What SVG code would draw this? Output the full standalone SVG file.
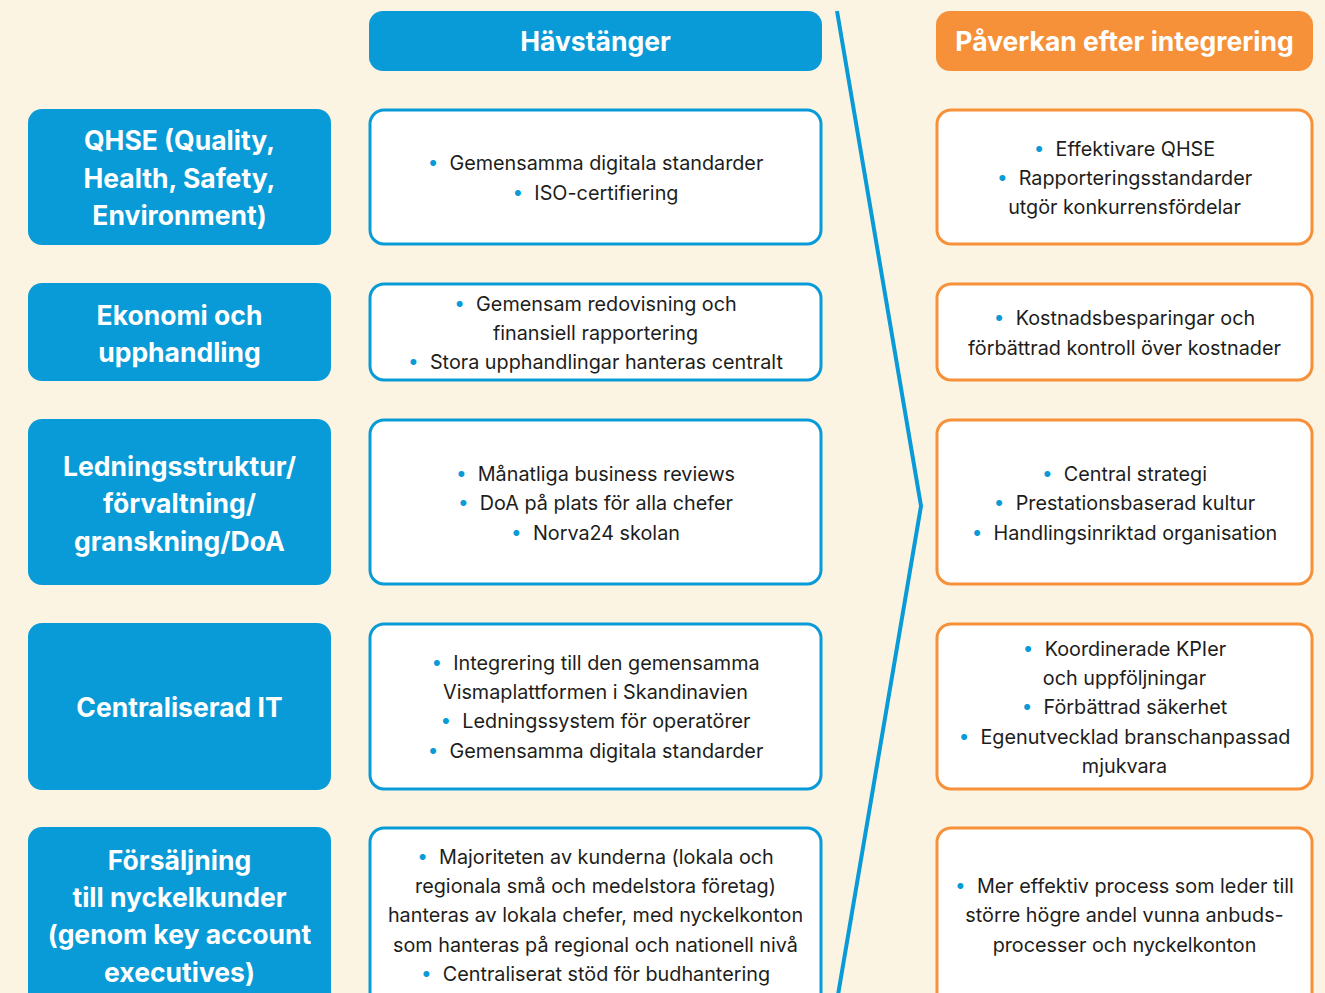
<svg xmlns="http://www.w3.org/2000/svg" width="1325" height="993" viewBox="0 0 1325 993">
<style>
.bg{fill:#fcf4e3}
.lbox{fill:#089bd8}
.mbox{fill:#fff;stroke:#089bd8;stroke-width:3}
.rbox{fill:#fff;stroke:#f6913a;stroke-width:3}
.hb{fill:#089bd8}
.ho{fill:#f6913a}
.title{font-family:Inter,"Liberation Sans",sans-serif;font-weight:700;font-size:26.5px;fill:#fff;text-anchor:middle}
.head{font-family:Inter,"Liberation Sans",sans-serif;font-weight:700;font-size:26.5px;fill:#fff;text-anchor:middle}
.t{font-family:Inter,"Liberation Sans",sans-serif;font-size:19.8px;fill:#1d1d1b;text-anchor:middle;white-space:pre}
.b{fill:#089bd8;font-size:19px}
.conn{fill:none;stroke:#089bd8;stroke-width:4;stroke-linejoin:miter}
</style>
<rect class="bg" x="0" y="0" width="1325" height="993"/>
<g id="connectors">
<polyline class="conn" points="837,11 921,506 838,995"/>
</g>
<g id="header-havstanger">
<rect class="hb" x="369" y="11" width="453" height="60" rx="14"/>
<text class="head" x="595.5" y="51">Hävstänger</text>
</g>
<g id="header-paverkan">
<rect class="ho" x="936" y="11" width="377" height="60" rx="14"/>
<text class="head" x="1124.5" y="51">Påverkan efter integrering</text>
</g>

<g id="l-qhse">
<rect class="lbox" x="28" y="109" width="303" height="136" rx="14"/>
<text class="title" x="179.5" y="150">QHSE (Quality,</text>
<text class="title" x="179.5" y="188">Health, Safety,</text>
<text class="title" x="179.5" y="225">Environment)</text>
</g>
<g id="m-qhse">
<rect class="mbox" x="370" y="110" width="451" height="134" rx="14"/>
<text class="t" x="595.5" y="170"><tspan class="b" dy="-1">•</tspan><tspan dy="1">  Gemensamma digitala standarder</tspan></text>
<text class="t" x="595.5" y="200"><tspan class="b" dy="-1">•</tspan><tspan dy="1">  ISO-certifiering</tspan></text>
</g>
<g id="r-qhse">
<rect class="rbox" x="937" y="110" width="375" height="134" rx="14"/>
<text class="t" x="1124.5" y="156"><tspan class="b" dy="-1">•</tspan><tspan dy="1">  Effektivare QHSE</tspan></text>
<text class="t" x="1124.5" y="185"><tspan class="b" dy="-1">•</tspan><tspan dy="1">  Rapporteringsstandarder</tspan></text>
<text class="t" x="1124.5" y="214">utgör konkurrensfördelar</text>
</g>

<g id="l-ekonomi">
<rect class="lbox" x="28" y="283" width="303" height="98" rx="14"/>
<text class="title" x="179.5" y="325">Ekonomi och</text>
<text class="title" x="179.5" y="362">upphandling</text>
</g>
<g id="m-ekonomi">
<rect class="mbox" x="370" y="284" width="451" height="96" rx="14"/>
<text class="t" x="595.5" y="311"><tspan class="b" dy="-1">•</tspan><tspan dy="1">  Gemensam redovisning och</tspan></text>
<text class="t" x="595.5" y="340">finansiell rapportering</text>
<text class="t" x="595.5" y="369"><tspan class="b" dy="-1">•</tspan><tspan dy="1">  Stora upphandlingar hanteras centralt</tspan></text>
</g>
<g id="r-ekonomi">
<rect class="rbox" x="937" y="284" width="375" height="96" rx="14"/>
<text class="t" x="1124.5" y="325"><tspan class="b" dy="-1">•</tspan><tspan dy="1">  Kostnadsbesparingar och</tspan></text>
<text class="t" x="1124.5" y="355">förbättrad kontroll över kostnader</text>
</g>

<g id="l-ledning">
<rect class="lbox" x="28" y="419" width="303" height="166" rx="14"/>
<text class="title" x="179.5" y="476">Ledningsstruktur/</text>
<text class="title" x="179.5" y="513">förvaltning/</text>
<text class="title" x="179.5" y="551">granskning/DoA</text>
</g>
<g id="m-ledning">
<rect class="mbox" x="370" y="420" width="451" height="164" rx="14"/>
<text class="t" x="595.5" y="481"><tspan class="b" dy="-1">•</tspan><tspan dy="1">  Månatliga business reviews</tspan></text>
<text class="t" x="595.5" y="510"><tspan class="b" dy="-1">•</tspan><tspan dy="1">  DoA på plats för alla chefer</tspan></text>
<text class="t" x="595.5" y="540"><tspan class="b" dy="-1">•</tspan><tspan dy="1">  Norva24 skolan</tspan></text>
</g>
<g id="r-ledning">
<rect class="rbox" x="937" y="420" width="375" height="164" rx="14"/>
<text class="t" x="1124.5" y="481"><tspan class="b" dy="-1">•</tspan><tspan dy="1">  Central strategi</tspan></text>
<text class="t" x="1124.5" y="510"><tspan class="b" dy="-1">•</tspan><tspan dy="1">  Prestationsbaserad kultur</tspan></text>
<text class="t" x="1124.5" y="540"><tspan class="b" dy="-1">•</tspan><tspan dy="1">  Handlingsinriktad organisation</tspan></text>
</g>

<g id="l-it">
<rect class="lbox" x="28" y="623" width="303" height="167" rx="14"/>
<text class="title" x="179.5" y="717">Centraliserad IT</text>
</g>
<g id="m-it">
<rect class="mbox" x="370" y="624" width="451" height="165" rx="14"/>
<text class="t" x="595.5" y="670"><tspan class="b" dy="-1">•</tspan><tspan dy="1">  Integrering till den gemensamma</tspan></text>
<text class="t" x="595.5" y="699">Vismaplattformen i Skandinavien</text>
<text class="t" x="595.5" y="728"><tspan class="b" dy="-1">•</tspan><tspan dy="1">  Ledningssystem för operatörer</tspan></text>
<text class="t" x="595.5" y="758"><tspan class="b" dy="-1">•</tspan><tspan dy="1">  Gemensamma digitala standarder</tspan></text>
</g>
<g id="r-it">
<rect class="rbox" x="937" y="624" width="375" height="165" rx="14"/>
<text class="t" x="1124.5" y="656"><tspan class="b" dy="-1">•</tspan><tspan dy="1">  Koordinerade KPIer</tspan></text>
<text class="t" x="1124.5" y="685">och uppföljningar</text>
<text class="t" x="1124.5" y="714"><tspan class="b" dy="-1">•</tspan><tspan dy="1">  Förbättrad säkerhet</tspan></text>
<text class="t" x="1124.5" y="744"><tspan class="b" dy="-1">•</tspan><tspan dy="1">  Egenutvecklad branschanpassad</tspan></text>
<text class="t" x="1124.5" y="773">mjukvara</text>
</g>

<g id="l-forsaljning">
<rect class="lbox" x="28" y="827" width="303" height="190" rx="14"/>
<text class="title" x="179.5" y="870">Försäljning</text>
<text class="title" x="179.5" y="907">till nyckelkunder</text>
<text class="title" x="179.5" y="944">(genom key account</text>
<text class="title" x="179.5" y="982">executives)</text>
</g>
<g id="m-forsaljning">
<rect class="mbox" x="370" y="828" width="451" height="190" rx="14"/>
<text class="t" x="595.5" y="864"><tspan class="b" dy="-1">•</tspan><tspan dy="1">  Majoriteten av kunderna (lokala och</tspan></text>
<text class="t" x="595.5" y="893">regionala små och medelstora företag)</text>
<text class="t" x="595.5" y="922">hanteras av lokala chefer, med nyckelkonton</text>
<text class="t" x="595.5" y="952">som hanteras på regional och nationell nivå</text>
<text class="t" x="595.5" y="981"><tspan class="b" dy="-1">•</tspan><tspan dy="1">  Centraliserat stöd för budhantering</tspan></text>
</g>
<g id="r-forsaljning">
<rect class="rbox" x="937" y="828" width="375" height="190" rx="14"/>
<text class="t" x="1124.5" y="893"><tspan class="b" dy="-1">•</tspan><tspan dy="1">  Mer effektiv process som leder till</tspan></text>
<text class="t" x="1124.5" y="922">större högre andel vunna anbuds-</text>
<text class="t" x="1124.5" y="952">processer och nyckelkonton</text>
</g>
</svg>
